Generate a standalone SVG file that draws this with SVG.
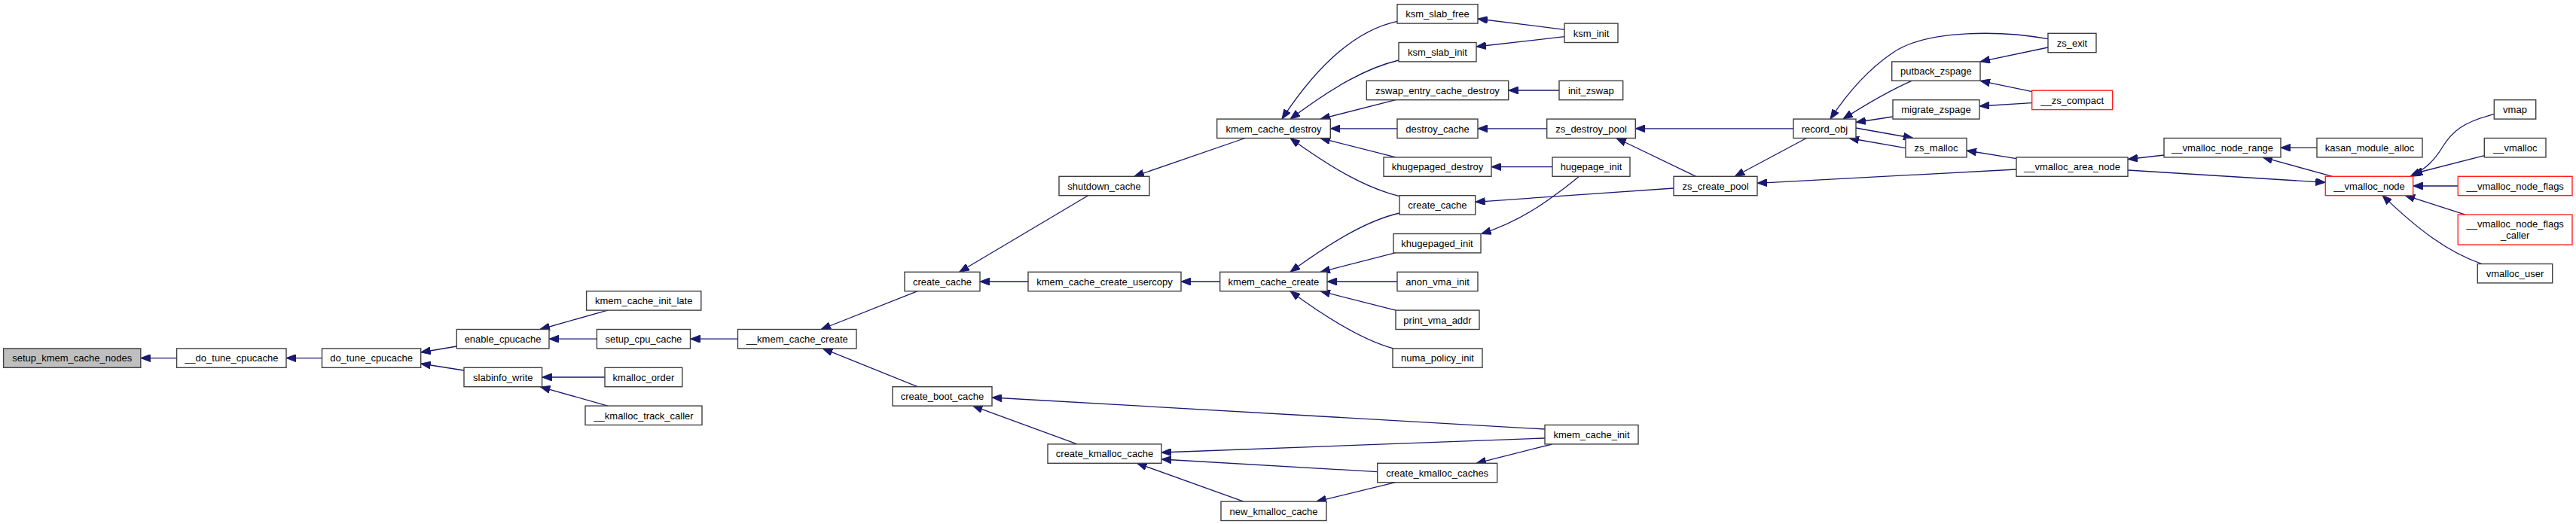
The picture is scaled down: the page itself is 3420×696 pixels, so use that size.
<svg xmlns="http://www.w3.org/2000/svg" width="3420" height="696" viewBox="0 0 3420 696">
<defs>
<style>
.n rect{fill:#ffffff;stroke:#404040;stroke-width:1.4}
.n.r rect{stroke:#ff2020}
.n.g rect{fill:#bfbfbf}
.n text{font-family:"Liberation Sans",Arial,Helvetica,sans-serif;font-size:13px;fill:#000;text-anchor:middle}
#edges path{fill:none;stroke:#191970;stroke-width:1.3;marker-end:url(#ah)}
</style>
<marker id="ah" viewBox="0 0 13 10" refX="13" refY="5" markerWidth="13" markerHeight="10" markerUnits="userSpaceOnUse" orient="auto">
<path d="M0,0 L13,5 L0,10 z" fill="#191970" stroke="#191970" stroke-width="1"/>
</marker>
</defs>
<rect width="3420" height="696" fill="#ffffff"/>
<g id="edges">
<path d="M234.6,475.6 L186.8,475.6"/>
<path d="M427.5,475.6 L380,475.6"/>
<path d="M606.3,460 L558.7,468"/>
<path d="M616,492 L558.7,483"/>
<path d="M806.7,412.1 L717,437.5"/>
<path d="M792.4,450.2 L729,450.2"/>
<path d="M803,501 L719.6,501"/>
<path d="M806.7,539.1 L717.4,513.8"/>
<path d="M979.5,450.2 L916.5,450.2"/>
<path d="M1218.3,386.7 L1090,437.5"/>
<path d="M1218.3,513.7 L1092.4,462.9"/>
<path d="M1444.6,259.7 L1273.7,361.3"/>
<path d="M1365,374 L1301,374"/>
<path d="M1653,183.5 L1505.8,234.3"/>
<path d="M1619.7,374 L1568,374"/>
<path d="M2051,570 L1317,528"/>
<path d="M1430,589.9 L1291.5,539.1"/>
<path d="M2051,582 L1542,601"/>
<path d="M1828.7,626.6 L1542,610"/>
<path d="M1651,666.1 L1509.5,615.3"/>
<path d="M1852.8,640.7 L1747.8,666.1"/>
<path d="M2060.6,590 L1960,615.3"/>
<path d="M1855,28.3 C1800,40 1750,85 1702,158.1"/>
<path d="M1857,80 C1815,90 1770,115 1713,158.1"/>
<path d="M1853,132.7 L1753,158.1"/>
<path d="M1855,170.8 L1766.3,170.8"/>
<path d="M1853,208.9 L1753,183.5"/>
<path d="M1858,260.7 C1815,250 1770,225 1713,183.5"/>
<path d="M1858,283 C1815,293 1770,320 1713,361.3"/>
<path d="M1853,335.7 L1753,361.3"/>
<path d="M1855,374 L1762,374"/>
<path d="M1853,412.1 L1753,386.7"/>
<path d="M1850,462.9 C1810,452 1765,425 1713,386.7"/>
<path d="M2077,39.3 L1962,25"/>
<path d="M2077,48.7 L1960,62"/>
<path d="M2070,120 L2002.7,120"/>
<path d="M2053.7,170.8 L1962,170.8"/>
<path d="M2061,221.6 L1980,221.6"/>
<path d="M2096.7,234.3 C2070,255 2030,290 1966.7,310.5"/>
<path d="M2222,250 L1958.7,268.3"/>
<path d="M2251.7,234.3 L2146,183.5"/>
<path d="M2381,170.8 L2171.3,170.8"/>
<path d="M2398.3,183.5 L2303.3,234.3"/>
<path d="M2719,51.7 C2660,41 2560,38 2513,70 C2482,91 2455,120 2430,158.1"/>
<path d="M2538,107.3 C2505,122 2475,140 2447,158.1"/>
<path d="M2513,155 L2464,162.5"/>
<path d="M2464,170 L2540,183.5"/>
<path d="M2530,196.7 L2455,183.5"/>
<path d="M2719,63 L2629,81.9"/>
<path d="M2697.7,121.7 L2629,107.3"/>
<path d="M2697.7,136.7 L2628,141"/>
<path d="M2677,210.7 L2611,200"/>
<path d="M2677,225 L2333,243.3"/>
<path d="M2873,206 L2825,211.5"/>
<path d="M2825,226 L3087.3,242.3"/>
<path d="M3076,196.2 L3028,196.2"/>
<path d="M3096.7,234.3 L3004,208.9"/>
<path d="M3311.3,151.7 C3270,162 3255,175 3243,195 C3232,213 3220,225 3200,234.3"/>
<path d="M3298.3,206.7 L3203,231"/>
<path d="M3263.3,247 L3203.7,247"/>
<path d="M3273,285.1 L3193,259.4"/>
<path d="M3295,350.5 C3250,335 3210,305 3163,259.4"/>
</g>
<g id="n0" class="n g"><rect x="4.6" y="462.9" width="182.2" height="25.4"/><text x="95.7" y="480.3">setup_kmem_cache_nodes</text></g>
<g id="n1" class="n"><rect x="234.6" y="462.9" width="145.4" height="25.4"/><text x="307.3" y="480.3">__do_tune_cpucache</text></g>
<g id="n2" class="n"><rect x="427.5" y="462.9" width="131.2" height="25.4"/><text x="493.1" y="480.3">do_tune_cpucache</text></g>
<g id="n3" class="n"><rect x="606.3" y="437.5" width="122.7" height="25.4"/><text x="667.6" y="454.9">enable_cpucache</text></g>
<g id="n4" class="n"><rect x="616" y="488.3" width="103.6" height="25.4"/><text x="667.8" y="505.7">slabinfo_write</text></g>
<g id="n5" class="n"><rect x="778.6" y="386.7" width="152.2" height="25.4"/><text x="854.7" y="404.1">kmem_cache_init_late</text></g>
<g id="n6" class="n"><rect x="792.4" y="437.5" width="124.1" height="25.4"/><text x="854.4" y="454.9">setup_cpu_cache</text></g>
<g id="n7" class="n"><rect x="803" y="488.3" width="102.8" height="25.4"/><text x="854.4" y="505.7">kmalloc_order</text></g>
<g id="n8" class="n"><rect x="777" y="539.1" width="155" height="25.4"/><text x="854.5" y="556.5">__kmalloc_track_caller</text></g>
<g id="n9" class="n"><rect x="979.5" y="437.5" width="157.5" height="25.4"/><text x="1058.2" y="454.9">__kmem_cache_create</text></g>
<g id="n10" class="n"><rect x="1201" y="361.3" width="100" height="25.4"/><text x="1251" y="378.7">create_cache</text></g>
<g id="n11" class="n"><rect x="1185" y="513.7" width="132" height="25.4"/><text x="1251" y="531.1">create_boot_cache</text></g>
<g id="n12" class="n"><rect x="1406" y="234.3" width="120" height="25.4"/><text x="1466" y="251.7">shutdown_cache</text></g>
<g id="n13" class="n"><rect x="1365" y="361.3" width="203" height="25.4"/><text x="1466.5" y="378.7">kmem_cache_create_usercopy</text></g>
<g id="n14" class="n"><rect x="1391" y="589.9" width="151" height="25.4"/><text x="1466.5" y="607.3">create_kmalloc_cache</text></g>
<g id="n15" class="n"><rect x="1615.7" y="158.1" width="150.6" height="25.4"/><text x="1691" y="175.5">kmem_cache_destroy</text></g>
<g id="n16" class="n"><rect x="1619.7" y="361.3" width="142.3" height="25.4"/><text x="1690.9" y="378.7">kmem_cache_create</text></g>
<g id="n17" class="n"><rect x="1621" y="666.1" width="140" height="25.4"/><text x="1691" y="683.5">new_kmalloc_cache</text></g>
<g id="n18" class="n"><rect x="1855" y="5.7" width="107" height="25.4"/><text x="1908.5" y="23.1">ksm_slab_free</text></g>
<g id="n19" class="n"><rect x="1857" y="56.5" width="103" height="25.4"/><text x="1908.5" y="73.9">ksm_slab_init</text></g>
<g id="n20" class="n"><rect x="1814.3" y="107.3" width="188.4" height="25.4"/><text x="1908.5" y="124.7">zswap_entry_cache_destroy</text></g>
<g id="n21" class="n"><rect x="1855" y="158.1" width="107" height="25.4"/><text x="1908.5" y="175.5">destroy_cache</text></g>
<g id="n22" class="n"><rect x="1837" y="208.9" width="143" height="25.4"/><text x="1908.5" y="226.3">khugepaged_destroy</text></g>
<g id="n23" class="n"><rect x="1858" y="259.7" width="100.7" height="25.4"/><text x="1908.4" y="277.1">create_cache</text></g>
<g id="n24" class="n"><rect x="1850" y="310.5" width="116" height="25.4"/><text x="1908" y="327.9">khugepaged_init</text></g>
<g id="n25" class="n"><rect x="1855" y="361.3" width="107" height="25.4"/><text x="1908.5" y="378.7">anon_vma_init</text></g>
<g id="n26" class="n"><rect x="1853" y="412.1" width="111" height="25.4"/><text x="1908.5" y="429.5">print_vma_addr</text></g>
<g id="n27" class="n"><rect x="1849" y="462.9" width="119" height="25.4"/><text x="1908.5" y="480.3">numa_policy_init</text></g>
<g id="n28" class="n"><rect x="1828.7" y="615.3" width="159" height="25.4"/><text x="1908.2" y="632.7">create_kmalloc_caches</text></g>
<g id="n29" class="n"><rect x="2077" y="31.1" width="71" height="25.4"/><text x="2112.5" y="48.5">ksm_init</text></g>
<g id="n30" class="n"><rect x="2070" y="107.3" width="84.7" height="25.4"/><text x="2112.3" y="124.7">init_zswap</text></g>
<g id="n31" class="n"><rect x="2053.7" y="158.1" width="117.6" height="25.4"/><text x="2112.5" y="175.5">zs_destroy_pool</text></g>
<g id="n32" class="n"><rect x="2061" y="208.9" width="103" height="25.4"/><text x="2112.5" y="226.3">hugepage_init</text></g>
<g id="n33" class="n"><rect x="2051" y="564.5" width="124" height="25.4"/><text x="2113" y="581.9">kmem_cache_init</text></g>
<g id="n34" class="n"><rect x="2222" y="234.3" width="111" height="25.4"/><text x="2277.5" y="251.7">zs_create_pool</text></g>
<g id="n35" class="n"><rect x="2381" y="158.1" width="83" height="25.4"/><text x="2422.5" y="175.5">record_obj</text></g>
<g id="n36" class="n"><rect x="2511.7" y="81.9" width="117.3" height="25.4"/><text x="2570.3" y="99.3">putback_zspage</text></g>
<g id="n37" class="n"><rect x="2513" y="132.7" width="115" height="25.4"/><text x="2570.5" y="150.1">migrate_zspage</text></g>
<g id="n38" class="n"><rect x="2530" y="183.5" width="81" height="25.4"/><text x="2570.5" y="200.9">zs_malloc</text></g>
<g id="n39" class="n"><rect x="2719" y="44.3" width="64" height="25.4"/><text x="2751" y="61.7">zs_exit</text></g>
<g id="n40" class="n r"><rect x="2697.7" y="120.2" width="107" height="25.4"/><text x="2751.2" y="137.6">__zs_compact</text></g>
<g id="n41" class="n"><rect x="2677" y="208.9" width="148" height="25.4"/><text x="2751" y="226.3">__vmalloc_area_node</text></g>
<g id="n42" class="n"><rect x="2873" y="183.5" width="155" height="25.4"/><text x="2950.5" y="200.9">__vmalloc_node_range</text></g>
<g id="n43" class="n"><rect x="3076" y="183.5" width="140" height="25.4"/><text x="3146" y="200.9">kasan_module_alloc</text></g>
<g id="n44" class="n r"><rect x="3087.3" y="234.3" width="116.4" height="25.4"/><text x="3145.5" y="251.7">__vmalloc_node</text></g>
<g id="n45" class="n"><rect x="3311.3" y="132.7" width="55.4" height="25.4"/><text x="3339" y="150.1">vmap</text></g>
<g id="n46" class="n"><rect x="3298.3" y="183.5" width="81.7" height="25.4"/><text x="3339.2" y="200.9">__vmalloc</text></g>
<g id="n47" class="n r"><rect x="3263.3" y="234.3" width="151.7" height="25.4"/><text x="3339.2" y="251.7">__vmalloc_node_flags</text></g>
<g id="n48" class="n r"><rect x="3263.3" y="285.1" width="151.7" height="40"/><text x="3339.2" y="301.7">__vmalloc_node_flags</text><text x="3339.2" y="316.7">_caller</text></g>
<g id="n49" class="n"><rect x="3289.3" y="350.5" width="99.4" height="25.4"/><text x="3339" y="367.9">vmalloc_user</text></g>
</svg>
